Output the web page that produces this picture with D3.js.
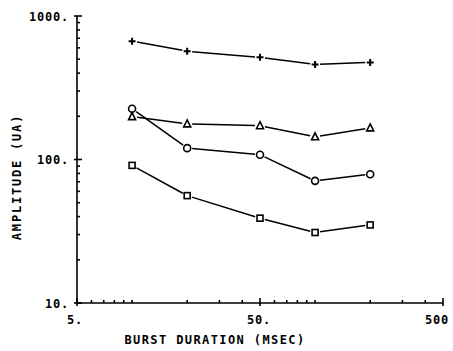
<!DOCTYPE html>
<script src="https://d3js.org/d3.v7.min.js"></script>
<body style="margin:0;background:#fff">
<script>
// Burst duration (msec) and amplitude (uA) per series.
const durations = [10, 20, 50, 100, 200];
const plusSeries = [668, 568, 515, 460, 475];
const triangleSeries = [199, 177, 172, 144, 166];
const circleSeries = [226, 120, 108, 71, 79];
const squareSeries = [91, 56, 39, 31, 35];
const xTickValues = [5, 50, 500];
const xTickLabels = ["5.", "50.", "500"];
const yTickValues = [10, 100, 1000];
const yTickLabels = ["10.", "100.", "1000."];

const width = 453, height = 351;
const svg = d3.select("body").append("svg")
    .attr("width", width)
    .attr("height", height);

const x = d3.scaleLog().domain([5, 500]).range([77, 443]);
const y = d3.scaleLog().domain([10, 1000]).range([303, 16]);

const font = "'DejaVu Sans Mono', monospace";
const ink = "#000";

// Axes with ticks pointing inward.
const g = svg.append("g").attr("stroke", ink).attr("stroke-width", 1.6);
g.append("line").attr("x1", x(5)).attr("x2", x(5)).attr("y1", y(1000)).attr("y2", y(10));
g.append("line").attr("x1", x(5)).attr("x2", x(500)).attr("y1", y(10)).attr("y2", y(10));

function logTicks(lo, hi) {
    const t = [];
    for (let d = lo; d < hi; d *= 10)
        for (let m = 1; m < 10; m++) t.push(d * m);
    t.push(hi);
    return t;
}

logTicks(10, 1000).forEach(v => {
    const major = yTickValues.includes(v);
    g.append("line").attr("x1", x(5) - (major ? 3 : 0)).attr("x2", x(5) + (major ? 5 : 3))
        .attr("y1", y(v)).attr("y2", y(v));
});
logTicks(1, 1000).filter(v => v >= 5 && v <= 500).forEach(v => {
    const major = xTickValues.includes(v);
    g.append("line").attr("x1", x(v)).attr("x2", x(v))
        .attr("y1", y(10) + (major ? 3 : 0)).attr("y2", y(10) - (major ? 5 : 3));
});

const labelStyle = sel => sel.attr("font-family", font).attr("font-weight", "bold")
    .attr("font-size", 12).attr("letter-spacing", 0.8).attr("fill", ink);

yTickValues.forEach((v, i) => {
    svg.append("text").call(labelStyle)
        .attr("x", 69).attr("y", y(v) + 4.5)
        .attr("text-anchor", "end")
        .text(yTickLabels[i]);
});
const xLabelStart = [67, 247, 425];
xTickValues.forEach((v, i) => {
    svg.append("text").call(labelStyle)
        .attr("x", xLabelStart[i]).attr("y", 324)
        .text(xTickLabels[i]);
});

svg.append("text").call(labelStyle)
    .attr("letter-spacing", 1.4)
    .attr("x", 215).attr("y", 344)
    .attr("text-anchor", "middle")
    .text("BURST DURATION (MSEC)");
svg.append("text").call(labelStyle)
    .attr("letter-spacing", 1.8)
    .attr("transform", "translate(21,177) rotate(-90)")
    .attr("text-anchor", "middle")
    .text("AMPLITUDE (UA)");

// Series: segments stop short of the markers, as on the plotter.
const series = [
    { values: plusSeries, marker: "plus" },
    { values: triangleSeries, marker: "triangle" },
    { values: circleSeries, marker: "circle" },
    { values: squareSeries, marker: "square" }
];

const gap = 5;
series.forEach(s => {
    const pts = durations.map((d, i) => [x(d), y(s.values[i])]);
    for (let i = 0; i < pts.length - 1; i++) {
        const [x1, y1] = pts[i], [x2, y2] = pts[i + 1];
        const len = Math.hypot(x2 - x1, y2 - y1);
        const ux = (x2 - x1) / len, uy = (y2 - y1) / len;
        svg.append("line")
            .attr("x1", x1 + ux * gap).attr("y1", y1 + uy * gap)
            .attr("x2", x2 - ux * gap).attr("y2", y2 - uy * gap)
            .attr("stroke", ink).attr("stroke-width", 1.5);
    }
    pts.forEach(([px, py]) => {
        const m = svg.append("g").attr("transform", `translate(${px},${py})`)
            .attr("stroke", ink).attr("stroke-width", 1.6).attr("fill", "none");
        if (s.marker === "plus") {
            m.append("path").attr("d", "M-3.5,0H3.5M0,-3.5V3.5").attr("stroke-width", 2);
        } else if (s.marker === "triangle") {
            m.append("path").attr("d", "M0,-4L3.5,3L-3.5,3Z");
        } else if (s.marker === "circle") {
            m.append("circle").attr("r", 3.5);
        } else {
            m.append("rect").attr("x", -3).attr("y", -3).attr("width", 6).attr("height", 6);
        }
    });
});
</script>
</body>
</html>
